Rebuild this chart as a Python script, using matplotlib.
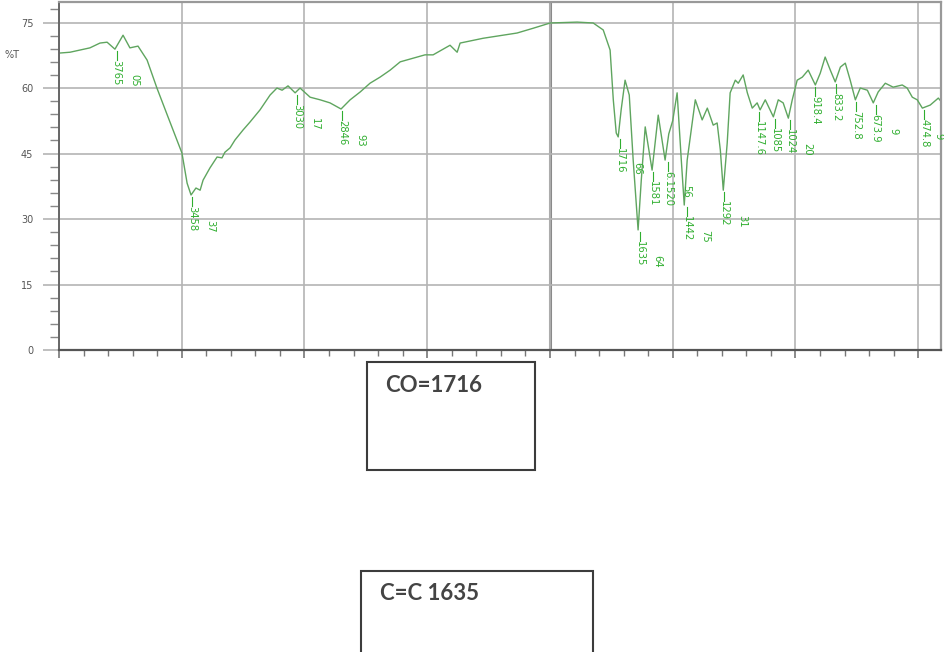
import numpy as np
import matplotlib.pyplot as plt
from matplotlib.patches import Rectangle
from matplotlib.ticker import MultipleLocator

# IR spectrum (wavenumber in 1/cm, %T)
wavenumber = [
    4000, 3955, 3874, 3833, 3804, 3772, 3739, 3711, 3678, 3641,
    3601, 3556, 3499, 3478, 3462, 3442, 3425, 3413, 3385, 3356,
    3336, 3324, 3303, 3283, 3250, 3222, 3181, 3140, 3112, 3091,
    3067, 3038, 3018, 2977, 2936, 2896, 2851, 2814, 2773, 2733,
    2692, 2651, 2610, 2509, 2476, 2407, 2378, 2366, 2272, 2134,
    2068, 1999, 1889, 1824, 1783, 1755, 1742, 1730, 1722, 1710,
    1694, 1677, 1661, 1641, 1628, 1612, 1584, 1559, 1531, 1516,
    1500, 1482, 1465, 1453, 1441, 1408, 1380, 1359, 1335, 1319,
    1306, 1294, 1278, 1266, 1245, 1233, 1213, 1196, 1176, 1156,
    1144, 1123, 1090, 1070, 1050, 1029, 1013, 993, 972, 948,
    919, 899, 879, 858, 838, 817, 797, 777, 756, 736,
    707, 683, 663, 634, 602, 565, 545, 524, 504, 483,
    451, 418, 402,
]
transmittance = [
    68.0, 68.2, 69.2, 70.3, 70.5, 68.9, 72.1, 69.2, 69.6, 66.4,
    60.0, 53.4, 45.1, 38.2, 35.5, 37.1, 36.6, 38.9, 41.7, 44.2,
    44.0, 45.3, 46.3, 48.1, 50.4, 52.2, 55.0, 58.4, 60.0, 59.5,
    60.5, 58.9, 60.0, 57.9, 57.3, 56.6, 55.2, 57.3, 59.1, 61.1,
    62.5, 64.1, 66.0, 67.6, 67.6, 69.8, 68.2, 70.3, 71.4, 72.6,
    73.7, 74.9, 75.1, 74.9, 73.3, 68.7, 57.3, 49.7, 48.8, 55.0,
    61.8, 58.4, 43.5, 27.5, 38.9, 51.1, 41.2, 53.8, 43.5, 49.5,
    52.5, 58.9, 43.5, 33.2, 43.5, 57.3, 52.7, 55.4, 51.5, 52.0,
    45.8, 36.6, 47.4, 58.9, 61.8, 61.1, 63.0, 58.9, 55.4, 56.6,
    55.0, 57.3, 53.4, 57.3, 56.6, 53.1, 57.3, 61.8, 62.5, 64.1,
    60.7, 63.4, 67.1, 64.1, 61.4, 64.8, 65.7, 61.8, 57.3, 60.0,
    59.5, 56.6, 59.1, 61.1, 60.2, 60.7, 60.0, 57.9, 57.3, 55.4,
    56.1, 57.7, 56.6,
]

# peak labels
peak_wn = [3765, 3458, 3030, 2846, 1716, 1635, 1581, 1520, 1442, 1292,
           1147.6, 1085, 1024, 918.4, 833.2, 752.8, 673.9, 474.8]
peak_text = ["3765", "3458", "3030", "2846", "1716", "1635", "1581", "6.1520",
             "1442", "1292", "1147.6", "1085", "1024", "918.4", "833.2",
             "752.8", "673.9", "474.8"]
peak_sub = ["05", "37", "17", "93", "66", "64", "", "56", "75", "31",
            "", "", "20", "", "", "", "9", "9"]

wn = np.array(wavenumber)
tr = np.array(transmittance)

curve_col = "#5fa55f"
label_col = "#2fae2f"
grid_col = "#b4b4b4"

fig = plt.figure(figsize=(9.45, 6.52), dpi=100)
ax = fig.add_axes([0.0624, 0.4632, 0.9334, 0.5337])

ax.plot(wn, tr, color=curve_col, lw=1.0)

ax.set_xlim(4000, 407)
ax.set_ylim(0, 79.7)

ax.xaxis.set_major_locator(MultipleLocator(500))
ax.xaxis.set_minor_locator(MultipleLocator(100))
ax.yaxis.set_major_locator(MultipleLocator(15))
ax.yaxis.set_minor_locator(MultipleLocator(3))
ax.grid(True, which="major", color=grid_col, lw=1.2)
ax.axvline(2000, color="#8a8a8a", lw=2.2, zorder=1)

ax.tick_params(axis="x", which="major", length=6, width=1.2, color="#777",
               labelbottom=False)
ax.tick_params(axis="x", which="minor", length=4, width=1.0, color="#777")
ax.tick_params(axis="y", which="major", length=11.5, width=1.2, color=grid_col,
               labelsize=7, labelcolor="#555", pad=7)
ax.tick_params(axis="y", which="minor", length=6.5, width=1.0, color="#888")

for side in ["top", "right"]:
    ax.spines[side].set_color("#999")
    ax.spines[side].set_linewidth(1.6)
ax.spines["left"].set_color("#666")
ax.spines["left"].set_linewidth(1.4)
ax.spines["bottom"].set_color("#555")
ax.spines["bottom"].set_linewidth(1.6)

fig.text(0.005, 1 - 55 / 652, "%T", fontsize=7, color="#555", va="center")

# peak annotations: tick below the minimum, number, then second number
for p, t, s in zip(peak_wn, peak_text, peak_sub):
    near = np.abs(wn - p) < 12
    y = tr[near].min() if near.any() else np.interp(p, wn[::-1], tr[::-1])
    ax.plot([p, p], [y - 0.5, y - 2.5], color=label_col, lw=0.8)
    ax.annotate(t, xy=(p, y), xytext=(0, -8), textcoords="offset points",
                rotation=-90, ha="center", va="top", fontsize=7.2,
                color=label_col)
    if s:
        dx = 13 if p > 500 else 10
        ax.annotate(s, xy=(p, y), xytext=(dx, -18), textcoords="offset points",
                    rotation=-90, ha="center", va="top", fontsize=7.2,
                    color=label_col)

# annotation boxes under the spectrum
box_col = "#3c3c3c"
fig.patches.append(Rectangle((367 / 945, 1 - 470 / 652), 168 / 945, 108 / 652,
                             transform=fig.transFigure, fill=False,
                             edgecolor=box_col, lw=1.5))
fig.patches.append(Rectangle((361 / 945, -0.02), 232 / 945, 1 - 571 / 652 + 0.02,
                             transform=fig.transFigure, fill=False,
                             edgecolor=box_col, lw=1.5))
fig.text(385 / 945, 1 - 385 / 652, "CO=1716", fontsize=16, fontweight="bold",
         family="Lato", color="#444", va="center")
fig.text(380 / 945, 1 - 593 / 652, "C=C 1635", fontsize=16, fontweight="bold",
         family="Lato", color="#444", va="center")

fig.savefig("out.png", dpi=100)
